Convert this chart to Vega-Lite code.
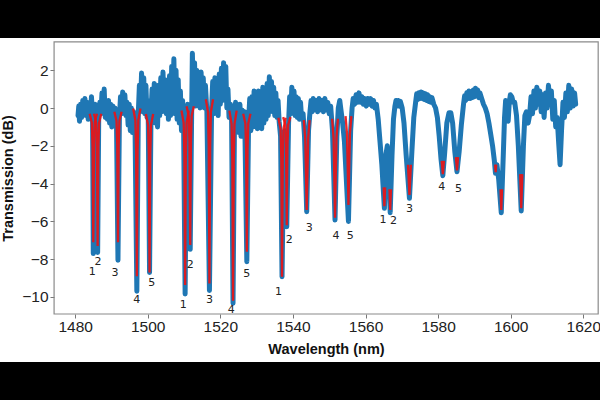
{
  "$schema": "https://vega.github.io/schema/vega-lite/v6.json",
  "width": 600,
  "height": 324,
  "autosize": {"type": "none"},
  "padding": {"left": 0, "right": 0, "top": 38, "bottom": 38},
  "background": "black",
  "view": {"fill": "white", "stroke": null},
  "datasets": {
    "spec": [
      {"x":1480.8,"y":-0.4},{"x":1481.0,"y":0.1},{"x":1481.2,"y":-0.7},{"x":1481.5,"y":0.2},{"x":1481.8,"y":-0.5},{"x":1482.1,"y":0.4},{"x":1482.4,"y":-0.3},{"x":1482.7,"y":0.5},{"x":1483.0,"y":-0.4},{"x":1483.3,"y":0.3},{"x":1483.6,"y":-0.6},{"x":1483.9,"y":0.2},{"x":1484.2,"y":-0.3},{"x":1484.5,"y":0.6},{"x":1484.8,"y":-0.5},
      {"x":1485.0,"y":-7.7},{"x":1485.2,"y":-0.5},{"x":1485.5,"y":0.2},{"x":1485.8,"y":-0.4},{"x":1486.2,"y":-7.65},{"x":1486.5,"y":-0.4},{"x":1486.8,"y":0.3},{"x":1487.1,"y":-0.3},{"x":1487.4,"y":0.8},{"x":1487.7,"y":-0.2},{"x":1488.0,"y":1.0},{"x":1488.3,"y":-0.5},{"x":1488.6,"y":0.3},{"x":1488.9,"y":-0.6},{"x":1489.2,"y":0.4},{"x":1489.5,"y":-0.8},{"x":1489.8,"y":0.2},{"x":1490.1,"y":-1.0},{"x":1490.4,"y":0.1},{"x":1490.7,"y":-0.9},{"x":1491.0,"y":0.0},{"x":1491.4,"y":-0.8},
      {"x":1491.8,"y":-8.05},{"x":1492.2,"y":-0.5},{"x":1492.5,"y":0.6},{"x":1492.8,"y":-0.3},{"x":1493.1,"y":0.85},{"x":1493.4,"y":-0.2},{"x":1493.7,"y":0.7},{"x":1494.0,"y":-0.4},{"x":1494.3,"y":0.3},{"x":1494.6,"y":-0.9},{"x":1494.9,"y":0.2},{"x":1495.2,"y":-1.2},{"x":1495.5,"y":0.0},{"x":1495.8,"y":-1.3},{"x":1496.1,"y":-0.2},{"x":1496.5,"y":-1.0},
      {"x":1497.0,"y":-9.7},{"x":1497.4,"y":-0.3},{"x":1497.7,"y":1.2},{"x":1498.0,"y":0.0},{"x":1498.3,"y":1.85},{"x":1498.6,"y":-0.2},{"x":1498.9,"y":1.6},{"x":1499.2,"y":-0.3},{"x":1499.5,"y":1.2},{"x":1499.8,"y":-0.5},{"x":1500.1,"y":0.4},
      {"x":1500.5,"y":-8.7},{"x":1500.9,"y":-0.3},{"x":1501.2,"y":1.0},{"x":1501.5,"y":-0.6},{"x":1501.8,"y":1.3},{"x":1502.1,"y":-0.8},{"x":1502.4,"y":0.9},{"x":1502.7,"y":-1.0},{"x":1503.0,"y":1.2},{"x":1503.3,"y":-0.4},{"x":1503.6,"y":1.6},{"x":1503.9,"y":-0.2},{"x":1504.2,"y":1.9},{"x":1504.5,"y":0.0},{"x":1504.8,"y":1.5},{"x":1505.1,"y":-0.3},{"x":1505.4,"y":1.2},{"x":1505.7,"y":-0.6},{"x":1506.0,"y":1.7},{"x":1506.3,"y":-0.4},{"x":1506.6,"y":2.2},{"x":1506.9,"y":0.0},{"x":1507.2,"y":2.6},{"x":1507.5,"y":-0.3},{"x":1507.8,"y":2.0},{"x":1508.1,"y":-0.6},{"x":1508.4,"y":1.5},{"x":1508.7,"y":-0.8},{"x":1509.0,"y":0.9},{"x":1509.3,"y":-1.2},{"x":1509.6,"y":0.4},{"x":1509.9,"y":-1.3},
      {"x":1510.3,"y":-9.84},{"x":1510.7,"y":-0.8},{"x":1511.0,"y":0.2},{"x":1511.3,"y":-0.9},{"x":1511.7,"y":-7.48},{"x":1512.1,"y":-0.3},{"x":1512.3,"y":2.9},{"x":1512.6,"y":0.3},{"x":1512.9,"y":2.4},{"x":1513.2,"y":0.1},{"x":1513.5,"y":2.0},{"x":1513.8,"y":0.2},{"x":1514.1,"y":1.7},{"x":1514.4,"y":0.0},{"x":1514.7,"y":1.9},{"x":1515.0,"y":0.3},{"x":1515.3,"y":1.6},{"x":1515.6,"y":0.0},{"x":1515.9,"y":1.2},{"x":1516.3,"y":-0.2},
      {"x":1517.0,"y":-9.66},{"x":1517.6,"y":0.0},{"x":1517.9,"y":1.4},{"x":1518.2,"y":-0.3},{"x":1518.5,"y":1.6},{"x":1518.8,"y":-0.2},{"x":1519.1,"y":1.2},{"x":1519.4,"y":-0.4},{"x":1519.7,"y":1.8},{"x":1520.0,"y":0.2},{"x":1520.3,"y":2.1},{"x":1520.6,"y":0.4},{"x":1520.9,"y":2.4},{"x":1521.2,"y":0.5},{"x":1521.5,"y":2.2},{"x":1521.8,"y":0.0},{"x":1522.1,"y":1.0},{"x":1522.4,"y":-0.5},{"x":1522.8,"y":0.2},{"x":1523.1,"y":-0.6},
      {"x":1523.5,"y":-10.33},{"x":1523.9,"y":-0.7},{"x":1524.2,"y":0.3},{"x":1524.5,"y":-1.0},{"x":1524.8,"y":0.1},{"x":1525.1,"y":-1.3},{"x":1525.4,"y":0.2},{"x":1525.7,"y":-1.5},{"x":1526.0,"y":-0.1},{"x":1526.3,"y":-1.2},{"x":1526.7,"y":-0.2},
      {"x":1527.3,"y":-8.13},{"x":1527.8,"y":-0.6},{"x":1528.1,"y":0.5},{"x":1528.4,"y":-1.2},{"x":1528.7,"y":0.6},{"x":1529.0,"y":-1.0},{"x":1529.3,"y":0.9},{"x":1529.6,"y":-0.8},{"x":1529.9,"y":0.7},{"x":1530.2,"y":-1.1},{"x":1530.5,"y":0.9},{"x":1530.8,"y":-1.0},{"x":1531.1,"y":0.8},{"x":1531.4,"y":-1.1},{"x":1531.7,"y":1.1},{"x":1532.0,"y":-0.8},{"x":1532.3,"y":0.9},{"x":1532.6,"y":-0.6},{"x":1532.9,"y":1.3},{"x":1533.2,"y":-0.4},{"x":1533.5,"y":1.65},{"x":1533.8,"y":0.2},{"x":1534.1,"y":1.4},{"x":1534.4,"y":-0.2},{"x":1534.7,"y":1.1},{"x":1535.0,"y":-0.4},{"x":1535.3,"y":0.8},{"x":1535.6,"y":-0.5},{"x":1535.9,"y":0.4},{"x":1536.2,"y":-0.7},{"x":1536.6,"y":-1.5},
      {"x":1537.0,"y":-8.93},{"x":1537.5,"y":-1.8},{"x":1537.8,"y":-1.2},{"x":1538.3,"y":-6.28},{"x":1538.8,"y":-0.8},{"x":1539.1,"y":0.6},{"x":1539.4,"y":-0.3},{"x":1539.7,"y":1.1},{"x":1540.0,"y":0.0},{"x":1540.3,"y":0.9},{"x":1540.6,"y":-0.4},{"x":1540.9,"y":0.6},{"x":1541.2,"y":-0.5},{"x":1541.5,"y":0.5},{"x":1541.8,"y":-0.6},{"x":1542.1,"y":0.3},{"x":1542.4,"y":-0.6},{"x":1542.8,"y":-0.3},{"x":1543.2,"y":-1.5},
      {"x":1543.8,"y":-5.49},{"x":1544.3,"y":-1.2},{"x":1544.7,"y":-0.2},{"x":1545.0,"y":0.4},{"x":1545.3,"y":-0.2},{"x":1545.6,"y":0.5},{"x":1546.0,"y":-0.1},{"x":1546.4,"y":0.4},{"x":1546.8,"y":-0.2},{"x":1547.2,"y":0.5},{"x":1547.6,"y":-0.1},{"x":1548.0,"y":0.4},{"x":1548.4,"y":-0.2},{"x":1548.8,"y":0.5},{"x":1549.2,"y":-0.1},{"x":1549.6,"y":0.3},{"x":1550.0,"y":-0.3},{"x":1550.4,"y":0.1},{"x":1550.9,"y":-1.2},
      {"x":1551.6,"y":-5.93},{"x":1552.1,"y":-1.5},{"x":1552.5,"y":0.0},{"x":1552.9,"y":0.4},{"x":1553.3,"y":-0.2},{"x":1553.7,"y":-0.8},{"x":1554.2,"y":-1.8},
      {"x":1555.3,"y":-6.0},{"x":1555.9,"y":-1.2},{"x":1556.3,"y":0.0},{"x":1556.6,"y":0.5},{"x":1557.0,"y":0.2},{"x":1557.4,"y":0.7},{"x":1557.8,"y":0.3},{"x":1558.2,"y":0.8},{"x":1558.6,"y":0.3},{"x":1559.0,"y":0.6},{"x":1559.4,"y":0.2},{"x":1559.8,"y":0.5},{"x":1560.2,"y":0.1},{"x":1560.6,"y":0.5},{"x":1561.0,"y":0.2},{"x":1561.4,"y":0.5},{"x":1561.8,"y":0.1},{"x":1562.2,"y":0.4},{"x":1562.6,"y":0.0},{"x":1563.0,"y":0.2},{"x":1563.5,"y":-0.6},{"x":1564.0,"y":-1.8},{"x":1564.5,"y":-3.0},
      {"x":1565.2,"y":-5.31},{"x":1565.6,"y":-2.5},{"x":1566.0,"y":-2.0},{"x":1566.3,"y":-3.0},{"x":1566.8,"y":-5.54},{"x":1567.3,"y":-2.5},{"x":1567.7,"y":-0.6},{"x":1568.1,"y":0.1},{"x":1568.4,"y":0.4},{"x":1568.7,"y":0.1},{"x":1569.0,"y":0.4},{"x":1569.3,"y":0.1},{"x":1569.6,"y":0.35},{"x":1570.1,"y":0.0},{"x":1570.6,"y":-0.8},{"x":1571.2,"y":-2.5},
      {"x":1572.1,"y":-4.78},{"x":1572.8,"y":-2.2},{"x":1573.3,"y":-0.5},{"x":1573.8,"y":0.3},{"x":1574.1,"y":0.75},{"x":1574.4,"y":0.45},{"x":1574.7,"y":0.8},{"x":1575.0,"y":0.5},{"x":1575.3,"y":0.85},{"x":1575.6,"y":0.5},{"x":1575.9,"y":0.8},{"x":1576.2,"y":0.45},{"x":1576.5,"y":0.75},{"x":1576.8,"y":0.4},{"x":1577.1,"y":0.7},{"x":1577.4,"y":0.35},{"x":1577.7,"y":0.6},{"x":1578.0,"y":0.3},{"x":1578.3,"y":0.55},{"x":1578.8,"y":0.2},{"x":1579.3,"y":0.0},{"x":1579.8,"y":-0.5},{"x":1580.3,"y":-1.5},{"x":1580.8,"y":-2.7},
      {"x":1581.3,"y":-3.58},{"x":1581.8,"y":-2.4},{"x":1582.4,"y":-0.8},{"x":1583.0,"y":-0.25},{"x":1583.5,"y":-0.25},{"x":1584.0,"y":-0.8},{"x":1584.6,"y":-2.3},
      {"x":1585.2,"y":-3.37},{"x":1585.8,"y":-2.3},{"x":1586.4,"y":-0.9},{"x":1587.0,"y":0.2},{"x":1587.3,"y":0.65},{"x":1587.6,"y":0.4},{"x":1587.9,"y":0.8},{"x":1588.2,"y":0.5},{"x":1588.5,"y":0.9},{"x":1588.8,"y":0.5},{"x":1589.1,"y":0.85},{"x":1589.4,"y":0.55},{"x":1589.7,"y":0.95},{"x":1590.0,"y":0.6},{"x":1590.3,"y":1.05},{"x":1590.6,"y":0.65},{"x":1590.9,"y":0.95},{"x":1591.2,"y":0.55},{"x":1591.5,"y":0.8},{"x":1592.0,"y":0.5},{"x":1592.5,"y":0.2},{"x":1593.0,"y":0.0},{"x":1593.5,"y":-0.3},{"x":1594.0,"y":-0.8},{"x":1594.5,"y":-1.4},{"x":1595.0,"y":-2.0},{"x":1595.5,"y":-2.8},{"x":1595.8,"y":-3.45},{"x":1596.2,"y":-3.0},{"x":1596.7,"y":-3.8},
      {"x":1597.4,"y":-5.54},{"x":1597.9,"y":-2.8},{"x":1598.3,"y":-0.5},{"x":1598.6,"y":0.4},{"x":1599.0,"y":0.2},{"x":1599.3,"y":-0.7},{"x":1599.6,"y":0.3},{"x":1599.9,"y":0.7},{"x":1600.3,"y":0.6},{"x":1600.7,"y":0.3},{"x":1601.1,"y":0.3},{"x":1601.6,"y":-0.4},{"x":1602.1,"y":-2.0},
      {"x":1602.9,"y":-5.45},{"x":1603.5,"y":-2.0},{"x":1603.9,"y":-0.4},{"x":1604.3,"y":-0.2},{"x":1604.8,"y":-0.8},{"x":1605.2,"y":-0.4},{"x":1605.6,"y":0.6},{"x":1606.0,"y":-0.3},{"x":1606.4,"y":0.9},{"x":1606.8,"y":0.0},{"x":1607.2,"y":1.1},{"x":1607.6,"y":0.2},{"x":1608.0,"y":0.9},{"x":1608.4,"y":-0.2},{"x":1608.8,"y":0.7},{"x":1609.2,"y":-0.5},{"x":1609.6,"y":0.8},{"x":1610.0,"y":0.0},{"x":1610.4,"y":1.2},{"x":1610.8,"y":0.2},{"x":1611.2,"y":0.9},{"x":1611.6,"y":-0.6},{"x":1612.0,"y":0.4},{"x":1612.4,"y":-1.0},{"x":1612.8,"y":-0.5},{"x":1613.2,"y":-1.8},{"x":1613.6,"y":-3.0},{"x":1614.0,"y":-1.2},{"x":1614.4,"y":0.3},{"x":1614.8,"y":-0.5},{"x":1615.2,"y":0.8},{"x":1615.6,"y":-0.2},{"x":1616.0,"y":1.2},{"x":1616.4,"y":0.0},{"x":1616.8,"y":1.0},{"x":1617.2,"y":0.1},{"x":1617.6,"y":0.8},{"x":1617.9,"y":0.2}
    ],
    "fit": [
      {"d":"a1","x":1484.0,"y":-0.3},{"d":"a1","x":1484.6,"y":-0.77},{"d":"a1","x":1484.8,"y":-2.03},{"d":"a1","x":1484.92,"y":-4.97},{"d":"a1","x":1485.0,"y":-7.1},{"d":"a1","x":1485.08,"y":-4.97},{"d":"a1","x":1485.2,"y":-2.03},{"d":"a1","x":1485.4,"y":-0.77},{"d":"a1","x":1486.0,"y":-0.3},
      {"d":"a2","x":1485.2,"y":-0.3},{"d":"a2","x":1485.8,"y":-0.79},{"d":"a2","x":1486.0,"y":-2.08},{"d":"a2","x":1486.12,"y":-5.11},{"d":"a2","x":1486.2,"y":-7.3},{"d":"a2","x":1486.28,"y":-5.11},{"d":"a2","x":1486.4,"y":-2.08},{"d":"a2","x":1486.6,"y":-0.79},{"d":"a2","x":1487.2,"y":-0.3},
      {"d":"a3","x":1490.8,"y":-0.2},{"d":"a3","x":1491.4,"y":-0.68},{"d":"a3","x":1491.6,"y":-1.96},{"d":"a3","x":1491.72,"y":-4.94},{"d":"a3","x":1491.8,"y":-7.1},{"d":"a3","x":1491.88,"y":-4.94},{"d":"a3","x":1492.0,"y":-1.96},{"d":"a3","x":1492.2,"y":-0.68},{"d":"a3","x":1492.8,"y":-0.2},
      {"d":"a4","x":1496.0,"y":-0.03},{"d":"a4","x":1496.6,"y":-0.65},{"d":"a4","x":1496.8,"y":-2.29},{"d":"a4","x":1496.92,"y":-6.13},{"d":"a4","x":1497.0,"y":-8.9},{"d":"a4","x":1497.08,"y":-6.13},{"d":"a4","x":1497.2,"y":-2.29},{"d":"a4","x":1497.4,"y":-0.65},{"d":"a4","x":1498.0,"y":-0.03},
      {"d":"a5","x":1499.5,"y":-0.32},{"d":"a5","x":1500.1,"y":-0.91},{"d":"a5","x":1500.3,"y":-2.45},{"d":"a5","x":1500.42,"y":-6.08},{"d":"a5","x":1500.5,"y":-8.7},{"d":"a5","x":1500.58,"y":-6.08},{"d":"a5","x":1500.7,"y":-2.45},{"d":"a5","x":1500.9,"y":-0.91},{"d":"a5","x":1501.5,"y":-0.32},
      {"d":"b1","x":1509.3,"y":-0.13},{"d":"b1","x":1509.9,"y":-0.78},{"d":"b1","x":1510.1,"y":-2.48},{"d":"b1","x":1510.22,"y":-6.48},{"d":"b1","x":1510.3,"y":-9.37},{"d":"b1","x":1510.38,"y":-6.48},{"d":"b1","x":1510.5,"y":-2.48},{"d":"b1","x":1510.7,"y":-0.78},{"d":"b1","x":1511.3,"y":-0.13},
      {"d":"b2","x":1510.7,"y":0.09},{"d":"b2","x":1511.3,"y":-0.42},{"d":"b2","x":1511.5,"y":-1.77},{"d":"b2","x":1511.62,"y":-4.96},{"d":"b2","x":1511.7,"y":-7.25},{"d":"b2","x":1511.78,"y":-4.96},{"d":"b2","x":1511.9,"y":-1.77},{"d":"b2","x":1512.1,"y":-0.42},{"d":"b2","x":1512.7,"y":0.09},
      {"d":"b3","x":1516.0,"y":0.46},{"d":"b3","x":1516.6,"y":-0.22},{"d":"b3","x":1516.8,"y":-2.02},{"d":"b3","x":1516.92,"y":-6.24},{"d":"b3","x":1517.0,"y":-9.28},{"d":"b3","x":1517.08,"y":-6.24},{"d":"b3","x":1517.2,"y":-2.02},{"d":"b3","x":1517.4,"y":-0.22},{"d":"b3","x":1518.0,"y":0.46},
      {"d":"b4","x":1522.5,"y":-0.14},{"d":"b4","x":1523.1,"y":-0.85},{"d":"b4","x":1523.3,"y":-2.7},{"d":"b4","x":1523.42,"y":-7.06},{"d":"b4","x":1523.5,"y":-10.2},{"d":"b4","x":1523.58,"y":-7.06},{"d":"b4","x":1523.7,"y":-2.7},{"d":"b4","x":1523.9,"y":-0.85},{"d":"b4","x":1524.5,"y":-0.14},
      {"d":"b5","x":1526.3,"y":-0.3},{"d":"b5","x":1526.9,"y":-0.81},{"d":"b5","x":1527.1,"y":-2.16},{"d":"b5","x":1527.22,"y":-5.32},{"d":"b5","x":1527.3,"y":-7.6},{"d":"b5","x":1527.38,"y":-5.32},{"d":"b5","x":1527.5,"y":-2.16},{"d":"b5","x":1527.7,"y":-0.81},{"d":"b5","x":1528.3,"y":-0.3},
      {"d":"c1","x":1536.0,"y":-0.52},{"d":"c1","x":1536.6,"y":-1.11},{"d":"c1","x":1536.8,"y":-2.66},{"d":"c1","x":1536.92,"y":-6.3},{"d":"c1","x":1537.0,"y":-8.93},{"d":"c1","x":1537.08,"y":-6.3},{"d":"c1","x":1537.2,"y":-2.66},{"d":"c1","x":1537.4,"y":-1.11},{"d":"c1","x":1538.0,"y":-0.52},
      {"d":"c2","x":1537.3,"y":-0.48},{"d":"c2","x":1537.9,"y":-0.88},{"d":"c2","x":1538.1,"y":-1.94},{"d":"c2","x":1538.22,"y":-4.41},{"d":"c2","x":1538.3,"y":-6.2},{"d":"c2","x":1538.38,"y":-4.41},{"d":"c2","x":1538.5,"y":-1.94},{"d":"c2","x":1538.7,"y":-0.88},{"d":"c2","x":1539.3,"y":-0.48},
      {"d":"c3","x":1543.0,"y":-0.64},{"d":"c3","x":1543.4,"y":-1.6},{"d":"c3","x":1543.64,"y":-3.87},{"d":"c3","x":1543.8,"y":-5.4},{"d":"c3","x":1543.96,"y":-3.87},{"d":"c3","x":1544.2,"y":-1.6},{"d":"c3","x":1544.6,"y":-0.64},
      {"d":"c4","x":1550.8,"y":-0.57},{"d":"c4","x":1551.2,"y":-1.61},{"d":"c4","x":1551.44,"y":-4.04},{"d":"c4","x":1551.6,"y":-5.8},{"d":"c4","x":1551.76,"y":-4.04},{"d":"c4","x":1552.0,"y":-1.61},{"d":"c4","x":1552.4,"y":-0.57},
      {"d":"c5","x":1554.5,"y":-0.43},{"d":"c5","x":1554.9,"y":-1.36},{"d":"c5","x":1555.14,"y":-3.55},{"d":"c5","x":1555.3,"y":-5.13},{"d":"c5","x":1555.46,"y":-3.55},{"d":"c5","x":1555.7,"y":-1.36},{"d":"c5","x":1556.1,"y":-0.43},
      {"d":"d1","x":1565.0,"y":-4.2},{"d":"d1","x":1565.2,"y":-5.2},{"d":"d1","x":1565.4,"y":-4.2},
      {"d":"d2","x":1566.6,"y":-4.3},{"d":"d2","x":1566.8,"y":-5.4},{"d":"d2","x":1567.0,"y":-4.3},
      {"d":"d3","x":1571.7,"y":-3.0},{"d":"d3","x":1572.1,"y":-4.6},{"d":"d3","x":1572.5,"y":-3.0},
      {"d":"d4","x":1581.0,"y":-2.8},{"d":"d4","x":1581.3,"y":-3.5},{"d":"d4","x":1581.6,"y":-2.8},
      {"d":"d5","x":1584.9,"y":-2.6},{"d":"d5","x":1585.2,"y":-3.3},{"d":"d5","x":1585.5,"y":-2.6},
      {"d":"e1","x":1595.7,"y":-3.0},{"d":"e1","x":1595.85,"y":-3.4},{"d":"e1","x":1596.0,"y":-3.0},
      {"d":"e2","x":1597.2,"y":-4.3},{"d":"e2","x":1597.4,"y":-5.4},{"d":"e2","x":1597.6,"y":-4.3},
      {"d":"e3","x":1602.6,"y":-3.5},{"d":"e3","x":1602.9,"y":-5.3},{"d":"e3","x":1603.2,"y":-3.5}
    ],
    "lab": [
      {"x":1484.7,"y":-8.7,"t":"1"},{"x":1486.3,"y":-8.15,"t":"2"},{"x":1491.0,"y":-8.75,"t":"3"},{"x":1497.0,"y":-10.15,"t":"4"},{"x":1501.1,"y":-9.25,"t":"5"},
      {"x":1509.8,"y":-10.4,"t":"1"},{"x":1511.7,"y":-8.3,"t":"2"},{"x":1517.0,"y":-10.15,"t":"3"},{"x":1523.0,"y":-10.7,"t":"4"},{"x":1527.3,"y":-8.8,"t":"5"},
      {"x":1536.0,"y":-9.72,"t":"1"},{"x":1539.0,"y":-6.98,"t":"2"},{"x":1544.5,"y":-6.37,"t":"3"},{"x":1551.9,"y":-6.76,"t":"4"},{"x":1555.8,"y":-6.76,"t":"5"},
      {"x":1564.8,"y":-5.9,"t":"1"},{"x":1567.7,"y":-6.0,"t":"2"},{"x":1572.1,"y":-5.34,"t":"3"},{"x":1581.0,"y":-4.2,"t":"4"},{"x":1585.6,"y":-4.3,"t":"5"}
    ],
    "frame": [
      {"x0":1474.2,"x1":1624.1,"y0":-10.9,"y1":3.5}
    ]
  },
  "encoding": {
    "x": {
      "field": "x", "type": "quantitative",
      "scale": {"domain": [1459.3, 1624.6], "nice": false, "zero": false},
      "axis": {"values": [1480, 1500, 1520, 1540, 1560, 1580, 1600, 1620], "format": "d", "title": "Wavelength (nm)", "offset": -48, "titlePadding": 8, "labelPadding": 1, "titleX": 326}
    },
    "y": {
      "field": "y", "type": "quantitative",
      "scale": {"domain": [-13.44, 3.704], "nice": false, "zero": false},
      "axis": {"values": [-10, -8, -6, -4, -2, 0, 2], "format": "d", "title": "Transmission (dB)", "offset": -54, "titlePadding": 6, "labelPadding": 2, "titleY": 140}
    }
  },
  "layer": [
    {
      "data": {"name": "spec"},
      "mark": {"type": "line", "color": "#1f77b4", "strokeWidth": 5, "strokeJoin": "round", "strokeCap": "round"}
    },
    {
      "data": {"name": "fit"},
      "mark": {"type": "line", "color": "#ee1111", "strokeWidth": 2.3, "opacity": 0.9},
      "encoding": {"detail": {"field": "d"}}
    },
    {
      "data": {"name": "lab"},
      "mark": {"type": "text", "font": "DejaVu Sans", "fontSize": 11, "color": "#222222"},
      "encoding": {"text": {"field": "t"}}
    },
    {
      "data": {"name": "frame"},
      "mark": {"type": "rect", "fill": "transparent", "stroke": "#8a8a8a", "strokeWidth": 1.2},
      "encoding": {
        "x": {"field": "x0", "type": "quantitative"},
        "x2": {"field": "x1"},
        "y": {"field": "y0", "type": "quantitative"},
        "y2": {"field": "y1"}
      }
    }
  ],
  "config": {
    "axis": {
      "domain": false,
      "grid": false,
      "tickColor": "#777777",
      "tickSize": 4,
      "labelFont": "Liberation Sans",
      "labelFontSize": 15.5,
      "labelColor": "#222222",
      "titleFont": "Liberation Sans",
      "titleFontWeight": "bold",
      "titleFontSize": 14.5,
      "titleColor": "#111111"
    }
  }
}
